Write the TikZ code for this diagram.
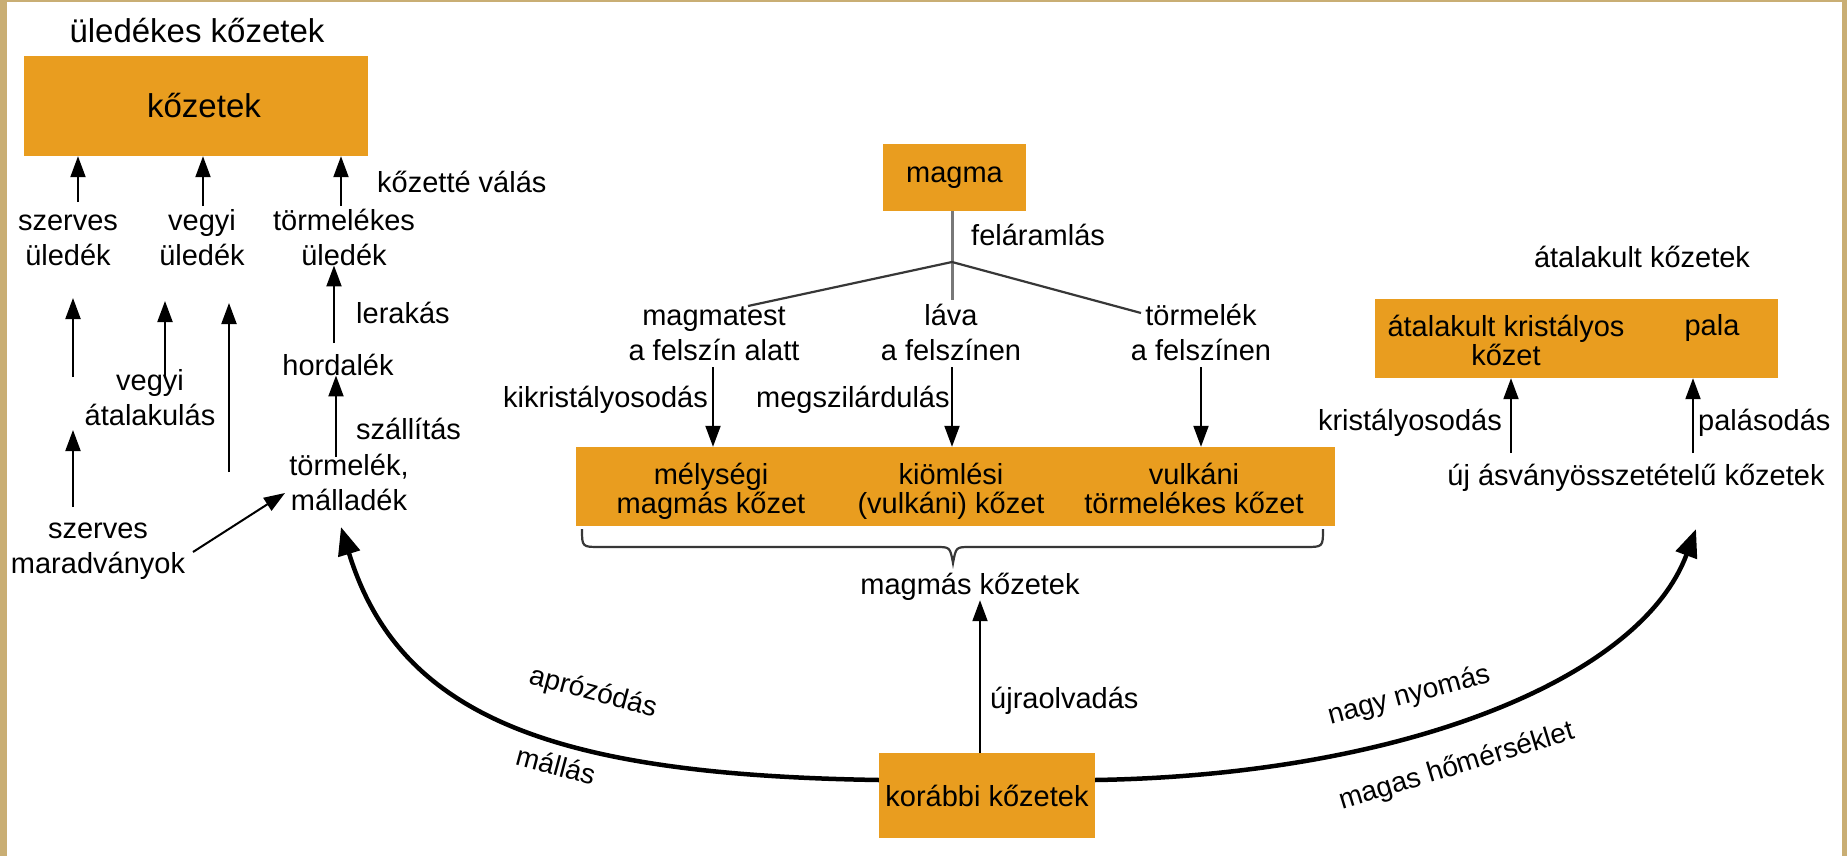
\documentclass[tikz,border=0pt]{standalone}
\usepackage{fontspec}
\setmainfont{Liberation Sans}
\usetikzlibrary{arrows.meta,calc}
\definecolor{rockor}{RGB}{233,157,31}
\definecolor{tanbg}{RGB}{201,174,116}
\definecolor{braceg}{RGB}{55,55,55}
\definecolor{stemg}{RGB}{120,120,120}
\tikzset{
  lbl/.style={inner sep=0pt, align=center, font=\fontsize{29pt}{35pt}\selectfont},
  boxlbl/.style={inner sep=0pt, align=center, font=\fontsize{29pt}{29pt}\selectfont},
  bigtxt/.style={inner sep=0pt, font=\fontsize{33pt}{38pt}\selectfont},
  rlbl/.style={inner sep=0pt, font=\fontsize{28pt}{33pt}\selectfont},
  rockbox/.style={fill=rockor, draw=none, inner sep=0pt},
  arr/.style={line width=2pt, -{Triangle[length=21pt,width=15pt]}},
  bigarr/.style={line width=4.5pt, -{Triangle[length=28pt,width=22pt]}},
}
\begin{document}
\begin{tikzpicture}[x=1pt,y=-1pt]
\useasboundingbox (0,0) rectangle (1847,856);
\fill[tanbg] (0,0) rectangle (1847,856);
\fill[white] (7,2) rectangle (1842,856);

% ---------- sedimentary part ----------
\node[bigtxt, anchor=base] (ulcim) at (197,43) {üledékes kőzetek};
\node[rockbox, bigtxt, minimum width=344pt, minimum height=100pt] (kozetek) at (196,106) {\hspace*{16pt}kőzetek};

% multi-line nodes: base anchor = baseline of the last line
\node[lbl, anchor=base] (szu) at (68,265) {szerves\\üledék};
\node[lbl, anchor=base] (veu) at (202,265) {vegyi\\üledék};
\node[lbl, anchor=base] (tou) at (344,265) {törmelékes\\üledék};
\node[lbl, anchor=base west] (kval) at (377,192) {kőzetté válás};

\coordinate (a1) at (78,202);
\coordinate (a2) at (203,206);
\coordinate (a3) at (341,206);
\draw[arr] (a1) -- (a1 |- kozetek.south);
\draw[arr] (a2) -- (a2 |- kozetek.south);
\draw[arr] (a3) -- (a3 |- kozetek.south);

\node[lbl, anchor=base] (hord) at (338,375) {hordalék};
\node[lbl, anchor=base west] (lerak) at (356,323) {lerakás};
\node[lbl, anchor=base] (torm) at (349,510) {törmelék,\\málladék};
\node[lbl, anchor=base west] (szall) at (356,439) {szállítás};
\node[lbl, anchor=base] (vegyat) at (150,425) {vegyi\\átalakulás};
\node[lbl, anchor=base] (szm) at (98,573) {szerves\\maradványok};

\coordinate (h1) at (334,343);
\draw[arr] (h1) -- (h1 |- tou.south);
\coordinate (t1) at (336,457);
\draw[arr] (t1) -- (t1 |- hord.south);

\coordinate (b1s) at (73,377);
\coordinate (b1e) at (73,298);
\draw[arr] (b1s) -- (b1e);
\coordinate (b2s) at (165,378);
\coordinate (b2e) at (165,301);
\draw[arr] (b2s) -- (b2e);
\coordinate (b3s) at (229,472);
\coordinate (b3e) at (229,303);
\draw[arr] (b3s) -- (b3e);
\coordinate (b4s) at (73,507);
\coordinate (b4e) at (73,430);
\draw[arr] (b4s) -- (b4e);
\coordinate (d1s) at (193,552);
\coordinate (d1e) at (285,493);
\draw[arr] (d1s) -- (d1e);

% ---------- magmatic part ----------
\node[rockbox, lbl, minimum width=143pt, minimum height=67pt] (magma) at (954.5,177.5) {magma};
\coordinate (split) at (952,262);
\coordinate (stemend) at (952,300);
\draw[stemg, line width=3pt] (magma.south -| split) -- (stemend);
\node[lbl, anchor=base west] (felar) at (971,245) {feláramlás};

\node[lbl, anchor=base] (mtest) at (714,360) {magmatest\\a felszín alatt};
\node[lbl, anchor=base] (lava) at (951,360) {láva\\a felszínen};
\node[lbl, anchor=base] (tfel) at (1201,360) {törmelék\\a felszínen};
\coordinate (brl) at (748,306);
\coordinate (brr) at (1141,313);
\draw[braceg, line width=2.2pt] (brl) -- (split) -- (brr);

\node[rockbox, minimum width=759pt, minimum height=79pt] (magbox) at (955.5,486.5) {};
\node[boxlbl, anchor=base] (melys) at (711,513) {mélységi\\magmás kőzet};
\node[boxlbl, anchor=base] (kioml) at (951,513) {kiömlési\\(vulkáni) kőzet};
\node[boxlbl, anchor=base] (vulk) at (1194,513) {vulkáni\\törmelékes kőzet};

\coordinate (m1) at (713,367);
\coordinate (m2) at (952,367);
\coordinate (m3) at (1201,367);
\draw[arr] (m1) -- (m1 |- magbox.north);
\draw[arr] (m2) -- (m2 |- magbox.north);
\draw[arr] (m3) -- (m3 |- magbox.north);
\node[lbl, anchor=base east] (kikrist) at (708,407) {kikristályosodás};
\node[lbl, anchor=base west] (megsz) at (756,407) {megszilárdulás};

\draw[braceg, line width=2.2pt]
  (582,529) .. controls (582,547) .. (600,547) -- (936,547)
  .. controls (950,547) .. (953,563) .. controls (956,547) .. (970,547)
  -- (1305,547) .. controls (1323,547) .. (1323,529);

\node[lbl, anchor=base] (magmas) at (970,594) {magmás kőzetek};
\node[rockbox, lbl, minimum width=216pt, minimum height=85pt] (korabbi) at (987,795.5) {korábbi kőzetek};
\coordinate (u1) at (980,753);
\draw[arr] (u1) -- (u1 |- magmas.south);
\node[lbl, anchor=base west] (ujra) at (990,708) {újraolvadás};

% ---------- metamorphic part ----------
\node[lbl, anchor=base] (atcim) at (1642,267) {átalakult kőzetek};
\node[rockbox, minimum width=403pt, minimum height=79pt] (atbox) at (1576.5,338.5) {};
\node[boxlbl, anchor=base] (atkr) at (1506,365) {átalakult kristályos\\kőzet};
\node[boxlbl, anchor=base] (pala) at (1712,335) {pala};
\node[lbl, anchor=base] (ujasv) at (1636,485) {új ásványösszetételű kőzetek};
\coordinate (k1) at (1511,453);
\coordinate (k2) at (1693,453);
\draw[arr] (k1) -- (k1 |- atbox.south);
\draw[arr] (k2) -- (k2 |- atbox.south);
\node[lbl, anchor=base east] (krist) at (1502,430) {kristályosodás};
\node[lbl, anchor=base west] (palas) at (1698,430) {palásodás};

% ---------- big curved arrows ----------
\coordinate (lstart) at (korabbi.west |- 0,780);
\coordinate (ltip) at (341,527);
\draw[bigarr] (lstart) .. controls (560,775) and (400,720) .. (ltip);
\coordinate (rstart) at (korabbi.east |- 0,780);
\coordinate (rtip) at (1696,529);
\draw[bigarr] (rstart) .. controls (1400,775) and (1640,680) .. (rtip);

\node[rlbl, rotate=-15] (aproz) at (593,693) {aprózódás};
\node[rlbl, rotate=-15] (mallas) at (556,765) {mállás};
\node[rlbl, rotate=15] (nagyny) at (1409,696) {nagy nyomás};
\node[rlbl, rotate=17] (magash) at (1457,767) {magas hőmérséklet};
\end{tikzpicture}
\end{document}
